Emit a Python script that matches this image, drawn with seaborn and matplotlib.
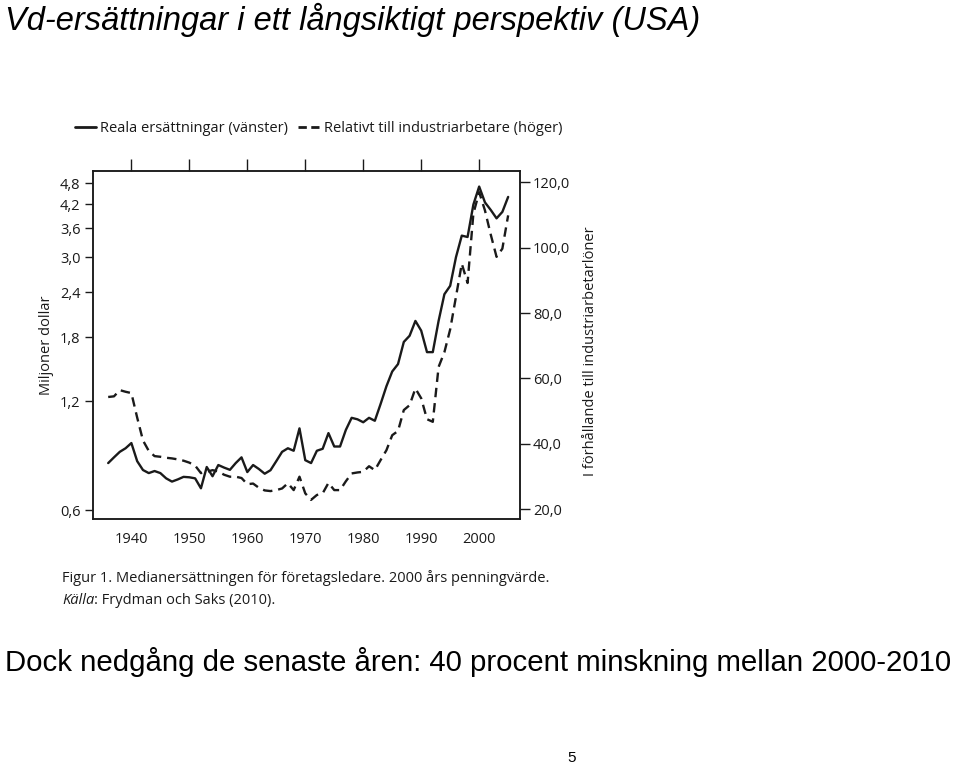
import numpy as np
import pandas as pd
import matplotlib
matplotlib.use("Agg")
import matplotlib.pyplot as plt
import seaborn as sns
from matplotlib.lines import Line2D
from matplotlib.ticker import FixedLocator, FuncFormatter, NullLocator

# annual values, 1936-2005
years = list(range(1936, 2006))

# median pay, millions of 2000 dollars (left, log scale)
real_pay = [
    0.81, 0.84, 0.87, 0.89, 0.92, 0.82, 0.775, 0.76, 0.77, 0.76,
    0.735, 0.72, 0.73, 0.742, 0.74, 0.735, 0.69, 0.79, 0.745, 0.80,
    0.787, 0.776, 0.81, 0.84, 0.765, 0.80, 0.78, 0.757, 0.774, 0.82,
    0.87, 0.89, 0.876, 1.01, 0.825, 0.81, 0.876, 0.887, 0.98, 0.90,
    0.90, 1.00, 1.08, 1.07, 1.05, 1.08, 1.06, 1.18, 1.32, 1.45,
    1.52, 1.75, 1.82, 2.00, 1.88, 1.64, 1.64, 2.00, 2.37, 2.50,
    3.00, 3.44, 3.41, 4.19, 4.70, 4.25, 4.05, 3.84, 4.00, 4.40,
]

# relative to production worker pay (right axis)
relative_pay = [
    54.3, 54.5, 56.4, 55.9, 55.5, 48.0, 41.0, 37.8, 36.2, 36.0,
    35.7, 35.5, 35.2, 34.8, 34.2, 33.3, 31.0, 31.4, 31.9, 31.5,
    30.5, 29.9, 29.9, 29.5, 27.6, 27.8, 26.5, 25.7, 25.5, 25.8,
    26.3, 27.9, 25.8, 29.9, 24.8, 22.8, 24.3, 24.8, 28.0, 25.8,
    25.8, 28.5, 30.9, 31.2, 31.4, 33.1, 31.9, 35.0, 38.0, 42.6,
    43.9, 50.3, 51.8, 56.9, 53.9, 47.5, 46.7, 63.5, 68.0, 75.0,
    85.0, 95.1, 89.2, 110.4, 117.0, 111.4, 104.0, 97.2, 99.7, 109.9,
]

left_ticks = [0.6, 1.2, 1.8, 2.4, 3.0, 3.6, 4.2, 4.8]
right_ticks = [20, 40, 60, 80, 100, 120]
decade_ticks = [1940, 1950, 1960, 1970, 1980, 1990, 2000]

df = pd.DataFrame({"year": years, "real": real_pay, "rel": relative_pay})

sns.set_style("white")
plt.rcParams["font.family"] = ["Open Sans", "DejaVu Sans"]

ink = "#1a1a1a"
comma = FuncFormatter(lambda v, p: f"{v:.1f}".replace(".", ","))
fs = 10.5

fig = plt.figure(figsize=(9.6, 7.68), dpi=100)
ax = fig.add_axes([0.097, 0.324, 0.445, 0.453])

sns.lineplot(data=df, x="year", y="real", ax=ax, color=ink, lw=1.7)
ax.set_yscale("log")
ax.set_ylim(0.567, 5.18)
ax.yaxis.set_major_locator(FixedLocator(left_ticks))
ax.yaxis.set_minor_locator(NullLocator())
ax.yaxis.set_major_formatter(comma)
ax.set_xlim(1933.4, 2007.1)
ax.set_xticks(decade_ticks)
ax.set_xlabel("")
ax.set_ylabel("")
ax.tick_params(axis="x", top=True, bottom=False, direction="out", length=9,
               width=1, color=ink, labelsize=fs, labelcolor=ink, pad=0)
ax.tick_params(axis="y", direction="out", length=6, width=1, color=ink,
               labelsize=fs, labelcolor=ink, pad=3)

ax2 = ax.twinx()
sns.lineplot(data=df, x="year", y="rel", ax=ax2, color=ink, lw=1.7,
             linestyle=(0, (4, 2.5)))
ax2.set_ylim(16.9, 123.4)
ax2.yaxis.set_major_locator(FixedLocator(right_ticks))
ax2.yaxis.set_major_formatter(comma)
ax2.set_ylabel("")
ax2.tick_params(axis="y", direction="out", length=7, width=1, color=ink,
                labelsize=fs, labelcolor=ink, pad=2)

for a in (ax, ax2):
    for s in a.spines.values():
        s.set_color(ink)
        s.set_linewidth(1.1)

fig.text(47 / 960, 1 - 345 / 768, "Miljoner dollar", rotation=90,
         ha="center", va="center", fontsize=fs, color=ink)
fig.text(590 / 960, 1 - 351 / 768, "I förhållande till industriarbetarlöner",
         rotation=90, ha="center", va="center", fontsize=fs, color=ink)

handles = [
    Line2D([], [], color=ink, lw=2),
    Line2D([], [], color=ink, lw=2, linestyle=(0, (3, 1.6))),
]
fig.legend(handles, ["Reala ersättningar (vänster)",
                     "Relativt till industriarbetare (höger)"],
           loc="center left", bbox_to_anchor=(0.064, 0.833), ncol=2,
           frameon=False, fontsize=fs, handlelength=1.45, handletextpad=0.3,
           columnspacing=0.7, labelcolor=ink)

fig.text(62 / 960, 1 - 578 / 768,
         "Figur 1. Medianersättningen för företagsledare. 2000 års penningvärde.",
         ha="left", va="center", fontsize=fs, color=ink)
src = fig.text(62 / 960, 1 - 601 / 768, "Källa", style="italic",
               ha="left", va="center", fontsize=fs, color=ink)
fig.add_artist(plt.Annotation(": Frydman och Saks (2010).", xy=(1, 0.5),
                              xycoords=src, ha="left", va="center",
                              fontsize=fs, color=ink))

fig.text(5 / 960, 1 - 20 / 768,
         "Vd-ersättningar i ett långsiktigt perspektiv (USA)",
         ha="left", va="center", fontsize=23.5, style="italic",
         family=["Liberation Sans", "DejaVu Sans"], color="black")
fig.text(5 / 960, 1 - 662 / 768,
         "Dock nedgång de senaste åren: 40 procent minskning mellan 2000-2010",
         ha="left", va="center", fontsize=21.2,
         family=["Liberation Sans", "DejaVu Sans"], color="black")
fig.text(572 / 960, 1 - 758 / 768, "5", ha="center", va="center",
         fontsize=11, family=["Liberation Sans", "DejaVu Sans"], color="black")

fig.savefig("out.png", dpi=100)
